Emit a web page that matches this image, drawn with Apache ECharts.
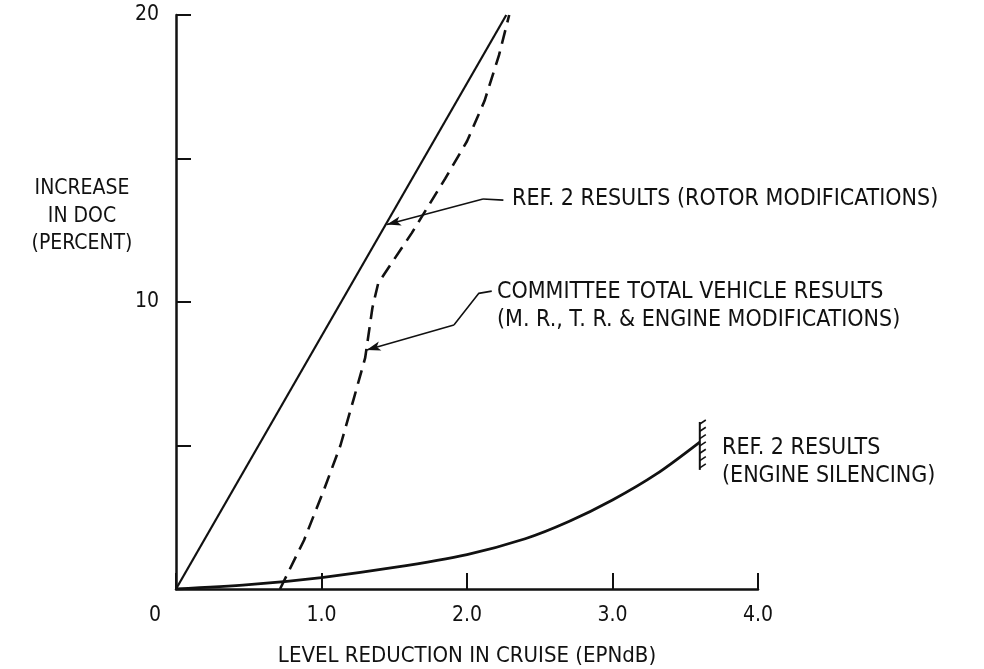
<!DOCTYPE html>
<html>
<head>
<meta charset="utf-8">
<script src="https://cdn.jsdelivr.net/npm/echarts@6/dist/echarts.min.js"></script>
<style>html,body{margin:0;background:#fff}#main{width:984px;height:669px}</style>
</head>
<body>
<div id="main"></div>
<script>
const FONT = "'Liberation Sans Narrow', 'DejaVu Sans Condensed', sans-serif";

// curves: [level reduction EPNdB, increase in DOC %]
const rotorPts = [[0, 0], [2.27, 20]];
const committeePts = [[0.715, 0], [0.88, 1.7], [1.02, 3.5], [1.13, 5.0], [1.22, 6.6], [1.30, 8.05],
    [1.35, 9.8], [1.39, 10.66], [1.62, 12.4], [1.85, 14.3], [2.0, 15.6], [2.12, 17.0], [2.22, 18.6], [2.29, 20]];
const enginePts = [[0, 0], [0.5, 0.15], [1.0, 0.4], [1.5, 0.75], [2.0, 1.2], [2.4, 1.75], [2.7, 2.35],
    [3.0, 3.1], [3.3, 4.0], [3.6, 5.12]];
// end stop of engine curve: x, y bottom, y top
const engineStop = [[3.6, 4.15, 5.82]];
// leader lines, last point is the arrow tip
const rotorLeader = [[2.25, 13.55], [2.11, 13.59], [1.45, 12.7]];
const committeeLeader = [[2.17, 10.38], [2.08, 10.3], [1.91, 9.2], [1.31, 8.33]];

const yLabelled = [10, 20];

const chart = echarts.init(document.getElementById('main'));

function leader(pts) {
    const n = pts.length;
    return {
        type: 'line',
        data: pts.slice(0, n - 1),
        symbol: 'none',
        lineStyle: {color: '#111', width: 1.6},
        silent: true,
        markLine: {
            silent: true,
            symbol: ['none', 'arrow'],
            symbolSize: [7, 14],
            label: {show: false},
            lineStyle: {color: '#111', width: 1.6, type: 'solid'},
            data: [[{coord: pts[n - 2]}, {coord: pts[n - 1]}]]
        }
    };
}

const textStyle = {fontFamily: FONT, fontSize: 23, fill: '#111'};

chart.setOption({
    animation: false,
    backgroundColor: '#fff',
    grid: {left: 176, right: 226, top: 15, bottom: 80, outerBoundsMode: 'none'},
    xAxis: {
        type: 'value', min: 0, max: 4, interval: 1,
        name: 'LEVEL REDUCTION IN CRUISE (EPNdB)',
        nameLocation: 'middle', nameGap: 56,
        nameTextStyle: {fontFamily: FONT, fontSize: 22, color: '#111'},
        axisLine: {lineStyle: {color: '#111', width: 2.5}},
        axisTick: {inside: true, length: 16, lineStyle: {color: '#111', width: 2}},
        axisLabel: {
            fontFamily: FONT, fontSize: 21, color: '#111', margin: 16,
            formatter: v => v === 0 ? '{o|0}' : v.toFixed(1),
            rich: {o: {fontFamily: FONT, fontSize: 21, color: '#111', padding: [0, 42, 0, 0]}}
        },
        splitLine: {show: false}
    },
    yAxis: {
        type: 'value', min: 0, max: 20, interval: 5,
        axisLine: {lineStyle: {color: '#111', width: 2.5}},
        axisTick: {inside: true, length: 15, lineStyle: {color: '#111', width: 2}},
        axisLabel: {
            fontFamily: FONT, fontSize: 21, color: '#111', margin: 17,
            formatter: v => yLabelled.includes(v) ? String(v) : ''
        },
        splitLine: {show: false}
    },
    graphic: [
        {type: 'text', x: 82, y: 175, style: Object.assign({}, textStyle, {text: 'INCREASE\nIN DOC\n(PERCENT)', align: 'center', fontSize: 21, lineHeight: 27.5})},
        {type: 'text', left: 512, top: 188, style: Object.assign({text: 'REF. 2 RESULTS (ROTOR MODIFICATIONS)'}, textStyle)},
        {type: 'text', left: 497, top: 278, style: Object.assign({text: 'COMMITTEE TOTAL VEHICLE RESULTS\n(M. R., T. R. & ENGINE MODIFICATIONS)', lineHeight: 28}, textStyle)},
        {type: 'text', left: 722, top: 434, style: Object.assign({text: 'REF. 2 RESULTS\n(ENGINE SILENCING)', lineHeight: 28}, textStyle)}
    ],
    series: [
        {type: 'line', data: rotorPts, symbol: 'none', lineStyle: {color: '#111', width: 2.2}},
        {type: 'line', data: committeePts, symbol: 'none', lineStyle: {color: '#111', width: 2.6, type: [14, 8]}},
        {type: 'line', data: enginePts, symbol: 'none', smooth: 0.3, lineStyle: {color: '#111', width: 2.8}},
        {
            type: 'custom',
            data: engineStop,
            encode: {x: 0, y: [1, 2]},
            renderItem: function (params, api) {
                const bot = api.coord([api.value(0), api.value(1)]);
                const top = api.coord([api.value(0), api.value(2)]);
                const children = [{
                    type: 'line',
                    shape: {x1: top[0], y1: top[1], x2: bot[0], y2: bot[1]},
                    style: {stroke: '#111', lineWidth: 2}
                }];
                const n = 7;
                for (let i = 0; i < n; i++) {
                    const y = top[1] + 2 + i * (bot[1] - top[1] - 4) / (n - 1);
                    children.push({
                        type: 'line',
                        shape: {x1: top[0], y1: y, x2: top[0] + 6, y2: y - 4},
                        style: {stroke: '#111', lineWidth: 1.6}
                    });
                }
                return {type: 'group', children: children};
            }
        },
        leader(rotorLeader),
        leader(committeeLeader)
    ]
});

window.addEventListener('resize', () => chart.resize());
</script>
</body>
</html>
